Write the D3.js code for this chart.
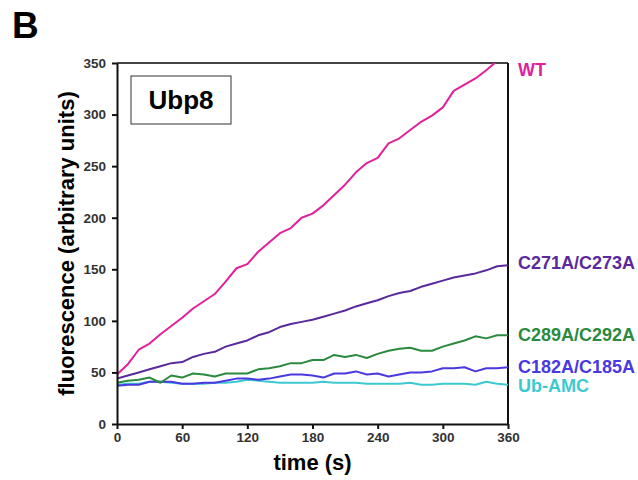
<!DOCTYPE html>
<html>
<head>
<meta charset="utf-8">
<script src="https://cdn.jsdelivr.net/npm/d3@7"></script>
<style>
  body { margin: 0; background: #fff; }
  svg { font-family: "Liberation Sans", Arial, sans-serif; }
</style>
</head>
<body>
<div id="chart"></div>
<script>
// time points (s)
const times = d3.range(0, 361, 10);

// fluorescence readings, one array per construct
const wt     = [48, 58, 72, 78, 87, 95, 103, 112, 119, 126, 138, 151, 155, 167, 176, 185, 190, 200, 204, 212, 222, 232, 244, 253, 258, 272, 277, 285, 293, 299, 307, 323, 329, 335, 343, 352, 360];
const c271   = [44, 47, 50, 53, 56, 59, 60, 65, 68, 70, 75, 78, 81, 86, 89, 94, 97, 99, 101, 104, 107, 110, 114, 117, 120, 124, 127, 129, 133, 136, 139, 142, 144, 146, 149, 153, 154];
const c289   = [40, 42, 43, 45, 40, 47, 45, 49, 48, 46, 49, 49, 49, 53, 54, 56, 59, 59, 62, 62, 67, 65, 67, 64, 68, 71, 73, 74, 71, 71, 75, 78, 81, 85, 83, 86, 86];
const c182   = [37, 38, 38, 41, 41, 41, 39, 39, 40, 40, 42, 44, 44, 43, 44, 46, 48, 48, 47, 45, 49, 49, 51, 48, 49, 46, 48, 50, 50, 51, 54, 54, 55, 51, 54, 54, 55];
const ubAmc  = [38, 39, 39, 41, 41, 40, 39, 39, 39, 40, 40, 41, 43, 42, 41, 40, 40, 40, 40, 41, 40, 40, 40, 39, 39, 39, 39, 40, 38, 38, 39, 39, 39, 38, 41, 39, 38];

const seriesNames = ["WT", "C271A/C273A", "C289A/C292A", "C182A/C185A", "Ub-AMC"];
const seriesValues = [wt, c271, c289, c182, ubAmc];
const seriesColors = ["#e0219c", "#5a2a9c", "#2b8a3e", "#4a38e0", "#3ccad0"];

const xTicks = [0, 60, 120, 180, 240, 300, 360];
const yTicks = [0, 50, 100, 150, 200, 250, 300, 350];

const W = 638, H = 480;
const margin = {top: 63, right: 130, bottom: 56, left: 117};

const svg = d3.select("#chart").append("svg")
    .attr("width", W)
    .attr("height", H);

const x = d3.scaleLinear().domain([0, 360]).range([margin.left, W - margin.right]);
const y = d3.scaleLinear().domain([0, 350]).range([H - margin.bottom, margin.top]);

// clip so WT stops at the top of the frame
svg.append("defs").append("clipPath").attr("id", "plotClip")
  .append("rect")
    .attr("x", x(0)).attr("y", y(350))
    .attr("width", x(360) - x(0)).attr("height", y(0) - y(350));

// panel letter
svg.append("text")
    .attr("x", 12).attr("y", 38)
    .style("font-size", "37px").style("font-weight", "bold")
    .text("B");

// frame: top and right edges
svg.append("line")
    .attr("x1", x(0)).attr("x2", x(360)).attr("y1", y(350)).attr("y2", y(350))
    .style("stroke", "#444").style("stroke-width", 2);
svg.append("line")
    .attr("x1", x(360)).attr("x2", x(360)).attr("y1", y(350)).attr("y2", y(0))
    .style("stroke", "#111").style("stroke-width", 2);

// lines
const line = d3.line()
    .x((d, i) => x(times[i]))
    .y(d => y(d));

const plot = svg.append("g").attr("clip-path", "url(#plotClip)");
seriesValues.slice().reverse().forEach((vals, k) => {
    const i = seriesValues.length - 1 - k;
    plot.append("path")
        .datum(vals)
        .attr("d", line)
        .style("fill", "none")
        .style("stroke", seriesColors[i])
        .style("stroke-width", 2)
        .style("stroke-linejoin", "round");
});

// axes
const xAxis = svg.append("g")
    .attr("transform", `translate(0,${y(0)})`)
    .call(d3.axisBottom(x).tickValues(xTicks).tickSize(5).tickPadding(3).tickSizeOuter(0));
const yAxis = svg.append("g")
    .attr("transform", `translate(${x(0)},0)`)
    .call(d3.axisLeft(y).tickValues(yTicks).tickSize(5).tickPadding(6).tickSizeOuter(0));

[xAxis, yAxis].forEach(a => {
    a.select(".domain").style("stroke", "#111").style("stroke-width", 2);
    a.selectAll(".tick line").style("stroke", "#111").style("stroke-width", 2);
    a.selectAll(".tick text")
        .style("font-family", "'Liberation Sans', Arial, sans-serif")
        .style("font-size", "13.5px").style("font-weight", "bold").style("fill", "#333");
});

// axis titles
svg.append("text")
    .attr("x", (x(0) + x(360)) / 2).attr("y", 470)
    .attr("text-anchor", "middle")
    .style("font-size", "22px").style("font-weight", "bold")
    .text("time (s)");

svg.append("text")
    .attr("transform", `translate(74,${(y(0) + y(350)) / 2}) rotate(-90)`)
    .attr("text-anchor", "middle")
    .style("font-size", "22px").style("font-weight", "bold")
    .text("fluorescence (arbitrary units)");

// Ubp8 box
svg.append("rect")
    .attr("x", 131).attr("y", 76).attr("width", 100).attr("height", 48)
    .style("fill", "#fff").style("stroke", "#333").style("stroke-width", 1);
svg.append("text")
    .attr("x", 181).attr("y", 109)
    .attr("text-anchor", "middle")
    .style("font-size", "26px").style("font-weight", "bold")
    .text("Ubp8");

// series labels on the right
const labelBaselines = [76, 269, 341, 373, 392];
seriesNames.forEach((name, i) => {
    svg.append("text")
        .attr("x", x(360) + 10).attr("y", labelBaselines[i])
        .style("font-size", "18px").style("font-weight", "bold")
        .style("fill", seriesColors[i])
        .text(name);
});
</script>
</body>
</html>
